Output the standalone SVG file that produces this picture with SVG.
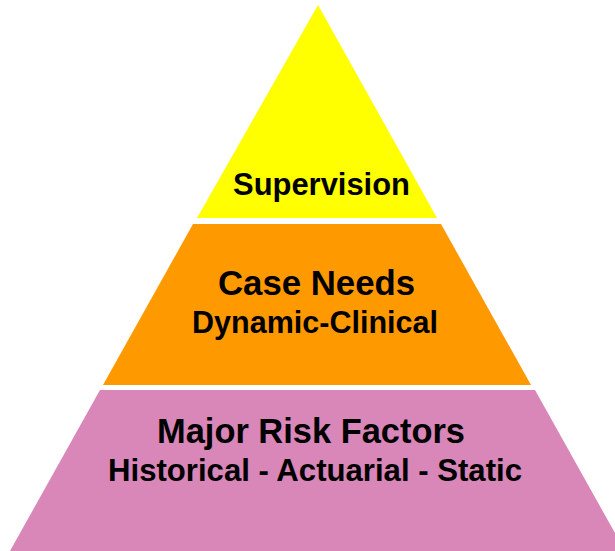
<svg xmlns="http://www.w3.org/2000/svg" width="615" height="551" viewBox="0 0 615 551">
  <style>
    .lbl { font-family: "Liberation Sans", Arial, sans-serif; font-weight: bold; fill: #000; text-anchor: middle; }
    .big { font-size: 35px; }
    .mid { font-size: 31px; }
  </style>
  <rect width="615" height="551" fill="#fff"/>
  <!-- top tier -->
  <g id="supervision">
    <polygon points="318,5 437,218 197,218" fill="#ffff00"/>
    <text class="lbl mid" x="321.5" y="195" textLength="177" lengthAdjust="spacingAndGlyphs">Supervision</text>
  </g>
  <!-- middle tier -->
  <g id="case-needs">
    <polygon points="193,224 441,224 531,385 103,385" fill="#ff9900"/>
    <text class="lbl big" x="316.5" y="295" textLength="197" lengthAdjust="spacingAndGlyphs">Case Needs</text>
    <text class="lbl mid" x="315" y="333" textLength="246" lengthAdjust="spacingAndGlyphs">Dynamic-Clinical</text>
  </g>
  <!-- base tier -->
  <g id="major-risk-factors">
    <polygon points="100,390 535,390 625,551 10,551" fill="#d986b8"/>
    <text class="lbl big" x="311" y="443" textLength="308" lengthAdjust="spacingAndGlyphs">Major Risk Factors</text>
    <text class="lbl mid" x="315" y="481" textLength="414" lengthAdjust="spacingAndGlyphs">Historical - Actuarial - Static</text>
  </g>
</svg>
